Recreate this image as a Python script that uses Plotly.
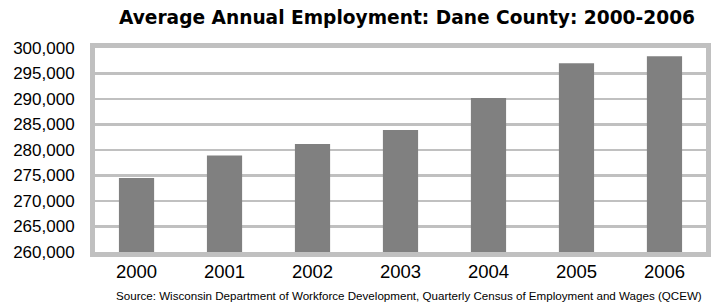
import plotly.graph_objects as go

years = ["2000", "2001", "2002", "2003", "2004", "2005", "2006"]
employment = [274500, 278900, 281200, 283900, 290200, 297000, 298400]
y_ticks = [260000, 265000, 270000, 275000, 280000, 285000, 290000, 295000, 300000]
y_tick_labels = [f"{v:,}" for v in y_ticks]

title_text = "Average Annual Employment: Dane County: 2000-2006"
source_text = ("Source: Wisconsin Department of Workforce Development, "
               "Quarterly Census of Employment and Wages (QCEW)")

# plot area (inner edge of the grey frame)
L, R, T, B = 94.5, 711.5, 48, 252.5
W, H = 720, 307

fig = go.Figure()
fig.add_trace(go.Bar(
    x=years, y=employment,
    marker=dict(color="#808080", line=dict(width=0)),
    width=0.4, hoverinfo="skip",
))

cat_w = (714 - 92) / 7.0
fig.update_layout(
    width=W, height=H,
    margin=dict(l=L, r=W - R, t=T, b=H - B, pad=0),
    paper_bgcolor="white", plot_bgcolor="white",
    showlegend=False,
    title=dict(
        text="<b>" + title_text + "</b>",
        font=dict(family="DejaVu Sans", size=18.6, color="#000000"),
        x=407 / W, xanchor="center", xref="container",
        y=1 - 17 / H, yanchor="middle", yref="container",
    ),
    xaxis=dict(
        type="category", showgrid=False, zeroline=False,
        range=[-0.5 + 2.5 / cat_w, 6.5 - 2.5 / cat_w],
        showline=True, mirror=True, linecolor="#c0c0c0", linewidth=5,
        tickfont=dict(family="Liberation Sans, Arial", size=18.5, color="#000000"),
        ticks="", ticklabelstandoff=-1,
    ),
    yaxis=dict(
        range=[260000, 300000], tickvals=y_ticks, ticktext=y_tick_labels,
        showgrid=True, gridcolor="#c0c0c0", gridwidth=2.5,
        zeroline=False, ticks="",
        showline=True, mirror=True, linecolor="#c0c0c0", linewidth=5,
        tickfont=dict(family="Liberation Sans, Arial", size=17, color="#000000"),
        ticklabelstandoff=12,
    ),
    annotations=[dict(
        text=source_text, xref="paper", yref="paper",
        x=(411.5 - L) / (R - L), y=(B - 296) / (B - T),
        xanchor="center", yanchor="middle",
        showarrow=False,
        font=dict(family="Liberation Sans, Arial", size=11.6, color="#000000"),
    )],
)

fig.write_html(
    "out.html",
    config={"displayModeBar": False, "staticPlot": True},
    post_script="document.body.style.margin='0px';document.body.style.padding='0px';"
                "document.documentElement.style.overflow='hidden';",
)
